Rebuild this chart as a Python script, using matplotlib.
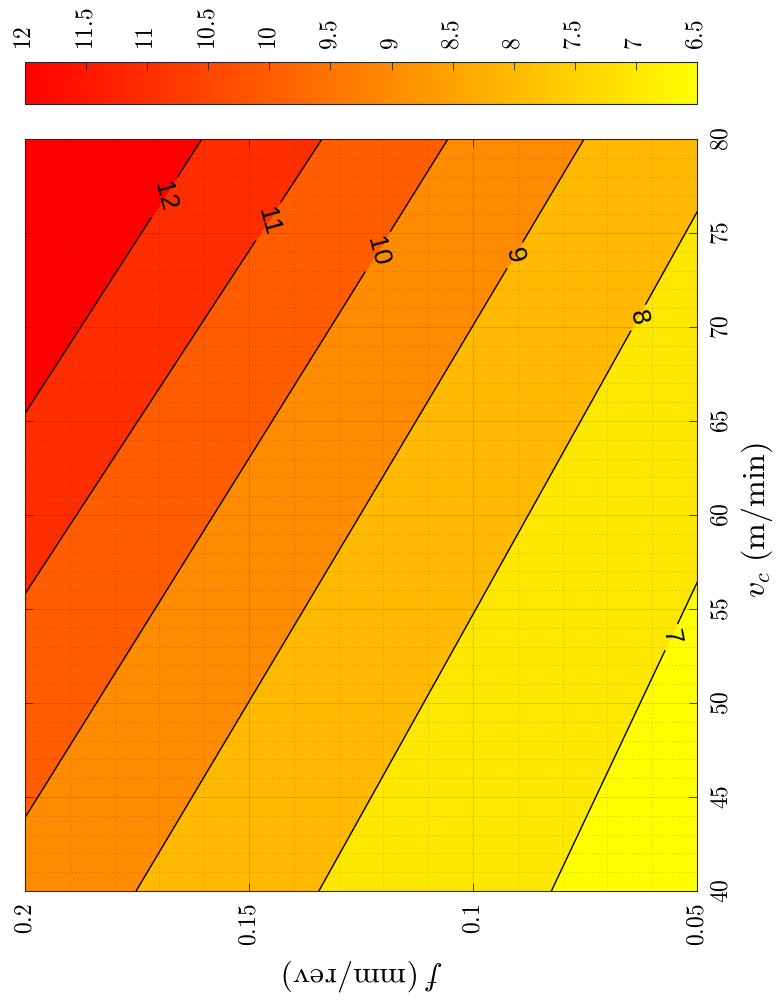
import numpy as np
import matplotlib
matplotlib.use("Agg")
import matplotlib.pyplot as plt
from matplotlib.colors import LinearSegmentedColormap, Normalize
from matplotlib.cm import ScalarMappable
from matplotlib.ticker import MultipleLocator

plt.rcParams['mathtext.fontset'] = 'cm'
plt.rcParams['font.family'] = ['Liberation Sans', 'DejaVu Sans']

# iso-lines of the surface (they are straight):
# feed f where each level is reached at vc = 40 and at vc = 80
# (values outside 0.05..0.2 are the lines continued past the frame)
vc_ends = [40, 80]
iso_levels = [6, 7, 8, 9, 10, 11, 12, 13, 14]
f_at_vc40 = [0.0165, 0.0825, 0.1344, 0.1752, 0.2102, 0.2433, 0.2687, 0.2940, 0.3200]
f_at_vc80 = [-0.0400, 0.0032, 0.0409, 0.0752, 0.1056, 0.1337, 0.1605, 0.1855, 0.2100]

line_levels = [7, 8, 9, 10, 11, 12]
fill_levels = [6, 7, 8, 9, 10, 11, 12, 14]
fill_values = [6.5, 7, 8, 9, 10, 11, 12]   # colour of each band (MATLAB style: lower level)
label_pos = [(0.0554, 53.5), (0.0632, 70.5), (0.0902, 73.8),
             (0.1208, 74.0), (0.1449, 75.6), (0.1679, 76.9)]

cbar_ticks = [6.5, 7, 7.5, 8, 8.5, 9, 9.5, 10, 10.5, 11, 11.5, 12]
vc_ticks = [40, 45, 50, 55, 60, 65, 70, 75, 80]
f_ticks = [0.05, 0.1, 0.15, 0.2]

cmin, cmax = 6.5, 12
cmap = LinearSegmentedColormap.from_list('autumn_r', ['#ffff00', '#ff0000'])
norm = Normalize(vmin=cmin, vmax=cmax)

W, H = 783, 1000
fig = plt.figure(figsize=(W / 100, H / 100), dpi=100)

def frac(x0, y0, x1, y1):
    return [x0 / W, 1 - y1 / H, (x1 - x0) / W, (y1 - y0) / H]

ax = fig.add_axes(frac(25, 139, 697, 891))

# curvilinear grid whose rows follow the iso-lines
F = np.column_stack([f_at_vc40, f_at_vc80])
VC = np.tile(vc_ends, (len(iso_levels), 1))
Z = np.tile(np.array(iso_levels, dtype=float)[:, None], (1, len(vc_ends)))

band_colors = [cmap(norm(v)) for v in fill_values]
ax.contourf(F, VC, Z, levels=fill_levels, colors=band_colors, zorder=1)
cs = ax.contour(F, VC, Z, levels=line_levels, colors='k', linewidths=1.0, zorder=2)
ax.clabel(cs, manual=label_pos, inline=True, fontsize=19, fmt='%d', inline_spacing=6)

ax.set_xlim(0.2, 0.05)
ax.set_ylim(40, 80)
ax.set_xticks(f_ticks, labels=[f'${t:g}$' for t in f_ticks])
ax.set_yticks(vc_ticks, labels=[f'${t:g}$' for t in vc_ticks])
ax.xaxis.set_minor_locator(MultipleLocator(0.01))
ax.yaxis.set_minor_locator(MultipleLocator(1))
ax.yaxis.tick_right()
ax.tick_params(which='major', direction='in', length=6, width=0.6, color='#262626',
               top=True, bottom=True, left=True, right=True,
               labelleft=False, labelright=True, labelsize=17)
ax.tick_params(which='minor', length=0)
ax.tick_params(axis='x', pad=9)
ax.tick_params(axis='y', pad=10)
for lab in ax.get_xticklabels():
    lab.set_rotation(90)
for lab in ax.get_yticklabels():
    lab.set_rotation(90)
    lab.set_va('center')

ax.set_axisbelow(False)
ax.grid(True, which='major', color='k', alpha=0.15, lw=0.6, ls='-')
ax.grid(True, which='minor', color='k', alpha=0.25, lw=0.6, ls=(0, (1, 3)))
for sp in ax.spines.values():
    sp.set_color('#262626')
    sp.set_linewidth(0.8)
    sp.set_zorder(5)

fig.text(757 / W, 1 - 520 / H, r'$v_c\ (\mathrm{m/min})$', rotation=90,
         ha='center', va='center', fontsize=23)
fig.text(363 / W, 1 - 975 / H, r'$f\ (\mathrm{mm/rev})$', rotation=180,
         ha='center', va='center', fontsize=23)

# colorbar along the top
cax = fig.add_axes(frac(25, 62, 697, 104))
sm = ScalarMappable(norm=norm, cmap=cmap)
cb = fig.colorbar(sm, cax=cax, orientation='horizontal')
cax.invert_xaxis()
cb.set_ticks(cbar_ticks)
cb.set_ticklabels([f'${t:g}$' for t in cbar_ticks])
cax.xaxis.set_ticks_position('top')
cax.tick_params(direction='in', length=6, width=0.6, color='#262626',
                labelsize=17, pad=9, labeltop=True, labelbottom=False)
for lab in cax.get_xticklabels():
    lab.set_rotation(90)
    lab.set_va('bottom')
cb.outline.set_edgecolor('#262626')
cb.outline.set_linewidth(0.8)

fig.savefig('out.png', dpi=100)
